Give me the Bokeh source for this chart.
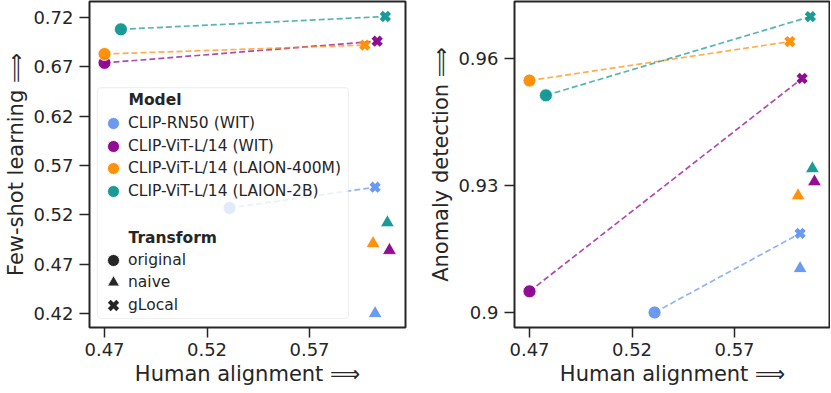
from bokeh.plotting import figure
from bokeh.layouts import row
from bokeh.models import (ColumnDataSource, FixedTicker, Range1d, Legend,
                          LegendItem, Label, BoxAnnotation)
from bokeh.embed import file_html
from bokeh.resources import INLINE

# ---------------- data ----------------
models = ["CLIP-RN50 (WIT)", "CLIP-ViT-L/14 (WIT)",
          "CLIP-ViT-L/14 (LAION-400M)", "CLIP-ViT-L/14 (LAION-2B)"]
colors = ["#6495ED", "#8B008B", "#FF8C00", "#0E9690"]
transforms = ["original", "naive", "gLocal"]
transform_markers = ["circle", "triangle", "x"]

align_original = [0.531, 0.470, 0.470, 0.478]
align_naive = [0.602, 0.609, 0.601, 0.608]
align_glocal = [0.602, 0.603, 0.597, 0.607]

fewshot_original = [0.527, 0.674, 0.683, 0.708]
fewshot_naive = [0.420, 0.484, 0.491, 0.512]
fewshot_glocal = [0.548, 0.696, 0.692, 0.721]

anomaly_original = [0.900, 0.905, 0.9548, 0.9513]
anomaly_naive = [0.9104, 0.9309, 0.9276, 0.934]
anomaly_glocal = [0.9187, 0.9553, 0.964, 0.9699]

xticks = [0.47, 0.52, 0.57]
xtick_labels = ["0.47", "0.52", "0.57"]
fs_ticks = [0.42, 0.47, 0.52, 0.57, 0.62, 0.67, 0.72]
fs_tick_labels = ["0.42", "0.47", "0.52", "0.57", "0.62", "0.67", "0.72"]
ad_ticks = [0.90, 0.93, 0.96]
ad_tick_labels = ["0.9", "0.93", "0.96"]

xlabel = "Human alignment \u27f9"
fs_label = "Few-shot learning \u27f9"
ad_label = "Anomaly detection \u27f9"

DARK = "#262626"
FONT = "DejaVu Sans"
X_RANGE = (0.46268, 0.61683)
FRAME_H = 326


def panel(ylabel, y_o, y_n, y_g, y_range, yticks, ytick_labels, mbl, mbr, fw):
    p = figure(frame_width=fw, frame_height=FRAME_H,
               x_range=Range1d(*X_RANGE), y_range=Range1d(*y_range),
               output_backend="svg", toolbar_location=None,
               min_border_left=mbl, min_border_right=mbr,
               min_border_top=1, min_border_bottom=65,
               background_fill_color="white", border_fill_color="white")
    p.grid.visible = False
    p.outline_line_color = DARK
    p.outline_line_width = 2
    p.outline_line_alpha = 1

    p.xaxis.ticker = FixedTicker(ticks=xticks)
    p.xaxis.major_label_overrides = dict(zip(xticks, xtick_labels))
    p.yaxis.ticker = FixedTicker(ticks=yticks)
    p.yaxis.major_label_overrides = dict(zip(yticks, ytick_labels))
    p.xaxis.axis_label = xlabel
    p.yaxis.axis_label = ylabel
    for ax in (p.xaxis[0], p.yaxis[0]):
        ax.axis_line_color = None
        ax.major_tick_out = 10
        ax.major_tick_in = 0
        ax.minor_tick_out = 0
        ax.minor_tick_in = 0
        ax.major_tick_line_color = DARK
        ax.major_tick_line_width = 1.5
        ax.major_label_text_font = FONT
        ax.major_label_text_font_size = "18px"
        ax.major_label_text_color = DARK
        ax.axis_label_text_font = FONT
        ax.axis_label_text_font_size = "21px"
        ax.axis_label_text_font_style = "normal"
        ax.axis_label_text_color = DARK
    p.xaxis.major_label_standoff = 5
    p.xaxis.axis_label_standoff = 3
    p.yaxis.major_label_standoff = 6
    p.yaxis.axis_label_standoff = 2

    # dashed connectors original -> gLocal
    for i in range(len(models)):
        p.line(x=[align_original[i], align_glocal[i]], y=[y_o[i], y_g[i]],
               line_color=colors[i], line_alpha=0.7, line_width=1.7,
               line_dash="6 3")

    src_o = ColumnDataSource(dict(x=align_original, y=y_o, color=colors))
    src_n = ColumnDataSource(dict(x=align_naive, y=y_n, color=colors))
    src_g = ColumnDataSource(dict(x=align_glocal, y=y_g, color=colors))
    r_o = p.scatter("x", "y", source=src_o, marker="circle", size=13,
                    fill_color="color", fill_alpha=0.95,
                    line_color="white", line_width=0.8)
    p.scatter("x", "y", source=src_n, marker="triangle", size=14,
              fill_color="color", fill_alpha=0.95,
              line_color="white", line_width=0.8)
    p.scatter("x", "y", source=src_g, marker="x", size=11.5,
              line_color="color", line_alpha=0.95, line_width=4.5)
    return p, r_o


p1, r_o1 = panel(fs_label, fewshot_original, fewshot_naive, fewshot_glocal,
                 (0.4058, 0.7362), fs_ticks, fs_tick_labels, 89, 9, 316)
p2, _ = panel(ad_label, anomaly_original, anomaly_naive, anomaly_glocal,
              (0.89646, 0.97347), ad_ticks, ad_tick_labels, 100, 0, 316)

# ---------------- legend (left panel) ----------------
box = BoxAnnotation(left=0.46658, right=0.58902, top=0.6490, bottom=0.4149,
                    fill_color="white", fill_alpha=0.8,
                    line_color="#cccccc", line_width=1.2, border_radius=4)
p1.add_layout(box)

dummy = []
for m in transform_markers:
    if m == "x":
        r = p1.scatter(x=align_original[:1], y=fewshot_original[:1], marker=m,
                       line_color=DARK, line_width=4, visible=False)
    else:
        r = p1.scatter(x=align_original[:1], y=fewshot_original[:1], marker=m,
                       fill_color=DARK, line_color="white", line_width=0.8,
                       visible=False)
    dummy.append(r)

items = [LegendItem(label=models[i], renderers=[r_o1], index=i)
         for i in range(len(models))]
items += [LegendItem(label=t, renderers=[r]) for t, r in zip(transforms, dummy)]
item_bottoms = [189, 166, 144, 121, 52, 30, 7]

for it, b in zip(items, item_bottoms):
    p1.add_layout(Legend(items=[it], location=(9, b),
                         glyph_width=30, glyph_height=30, spacing=0,
                         label_standoff=0, padding=0, margin=0,
                         border_line_alpha=0, background_fill_alpha=0,
                         label_text_font=FONT, label_text_font_size="15.5px",
                         label_text_color=DARK, label_height=20))

for txt, y in (("Model", 0.6359), ("Transform", 0.4970)):
    p1.add_layout(Label(x=0.48171, y=y, text=txt, text_font=FONT,
                        text_font_size="15.5px", text_font_style="bold",
                        text_color=DARK, text_baseline="middle"))

layout = row(p1, p2)
open("out.html", "w").write(file_html(layout, INLINE))
